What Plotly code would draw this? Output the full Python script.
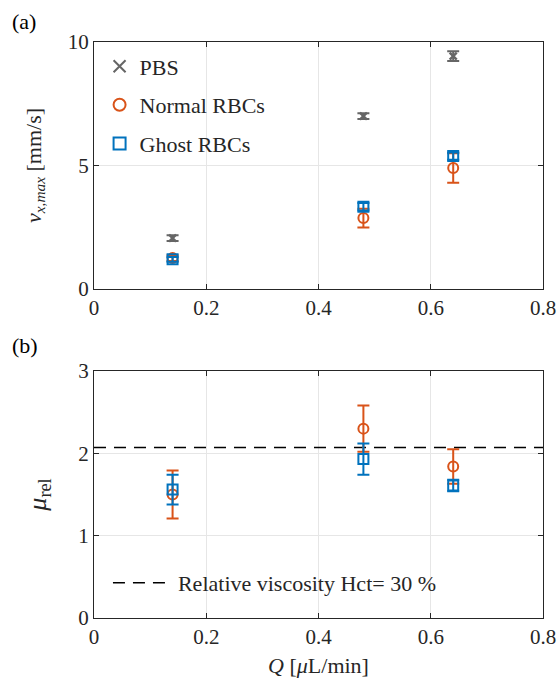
import plotly.graph_objects as go

# ---- data ----
Q = [0.14, 0.48, 0.64]

v_pbs = [2.06, 7.0, 9.43]
v_pbs_err = [0.12, 0.12, 0.2]
v_normal = [1.25, 2.87, 4.9]
v_normal_err = [0.12, 0.38, 0.6]
v_ghost = [1.2, 3.33, 5.38]
v_ghost_err = [0.1, 0.15, 0.15]

mu_normal = [1.5, 2.3, 1.84]
mu_normal_err = [0.29, 0.28, 0.21]
mu_ghost = [1.56, 1.93, 1.61]
mu_ghost_err = [0.18, 0.19, 0.07]

mu_hct30 = 2.07

x_ticks = [0, 0.2, 0.4, 0.6, 0.8]
x_ticklabels = ["0", "0.2", "0.4", "0.6", "0.8"]
ya_ticks = [0, 5, 10]
yb_ticks = [0, 1, 2, 3]

GRAY = "#666666"
ORANGE = "#D95319"
BLUE = "#0072BD"
FONT = "Liberation Serif, serif"

fig = go.Figure()

def eb(err, color):
    return dict(type="data", array=err, visible=True, color=color, thickness=2, width=6)

fig.add_trace(go.Scatter(x=Q, y=v_pbs, mode="markers", name="PBS", legendgroup="g1",
                         marker=dict(symbol="x-thin-open", size=7, color=GRAY, line=dict(color=GRAY, width=2.5)),
                         error_y=eb(v_pbs_err, GRAY), xaxis="x", yaxis="y", legend="legend"))
fig.add_trace(go.Scatter(x=Q, y=v_normal, mode="markers", name="Normal RBCs", legendgroup="g2",
                         marker=dict(symbol="circle-open", size=10, color=ORANGE, line=dict(color=ORANGE, width=2)),
                         error_y=eb(v_normal_err, ORANGE), xaxis="x", yaxis="y", legend="legend"))
fig.add_trace(go.Scatter(x=Q, y=v_ghost, mode="markers", name="Ghost RBCs", legendgroup="g3",
                         marker=dict(symbol="square-open", size=10, color=BLUE, line=dict(color=BLUE, width=2)),
                         error_y=eb(v_ghost_err, BLUE), xaxis="x", yaxis="y", legend="legend"))

fig.add_trace(go.Scatter(x=[0, 0.8], y=[mu_hct30, mu_hct30], mode="lines",
                         name="Relative viscosity Hct= 30 %",
                         line=dict(color="black", width=1.5, dash="12px,8px"),
                         xaxis="x2", yaxis="y2", legend="legend2"))
fig.add_trace(go.Scatter(x=Q, y=mu_normal, mode="markers", name="Normal RBCs", showlegend=False,
                         marker=dict(symbol="circle-open", size=10, color=ORANGE, line=dict(color=ORANGE, width=2)),
                         error_y=eb(mu_normal_err, ORANGE), xaxis="x2", yaxis="y2"))
fig.add_trace(go.Scatter(x=Q, y=mu_ghost, mode="markers", name="Ghost RBCs", showlegend=False,
                         marker=dict(symbol="square-open", size=10, color=BLUE, line=dict(color=BLUE, width=2)),
                         error_y=eb(mu_ghost_err, BLUE), xaxis="x2", yaxis="y2"))

W, H = 558, 683
xdom = [94 / W, 543 / W]
ydom_a = [1 - 289 / H, 1 - 42 / H]
ydom_b = [1 - 618 / H, 1 - 371 / H]

axcommon = dict(showline=True, linecolor="#262626", linewidth=1, mirror="allticks",
                ticks="inside", ticklen=5, tickcolor="#262626", automargin=False,
                showgrid=True, gridcolor="#e6e6e6", gridwidth=1, zeroline=False,
                tickfont=dict(family=FONT, size=21, color="#262626"))

fig.update_layout(
    width=W, height=H, margin=dict(l=0, r=0, t=0, b=0, autoexpand=False),
    paper_bgcolor="white", plot_bgcolor="white",
    font=dict(family=FONT, size=21, color="#262626"),
    xaxis=dict(domain=xdom, range=[0, 0.8], tickvals=x_ticks, ticktext=x_ticklabels,
               anchor="y", **axcommon),
    yaxis=dict(domain=ydom_a, range=[0, 10], tickvals=ya_ticks, anchor="x",
               title=dict(text="<i>v</i><sub><i>x,max</i></sub> [mm/s]", standoff=20,
                          font=dict(family=FONT, size=22)), **axcommon),
    xaxis2=dict(domain=xdom, range=[0, 0.8], tickvals=x_ticks, ticktext=x_ticklabels,
                anchor="y2",
                title=dict(text="<i>Q</i> [<i>μ</i>L/min]", standoff=9, font=dict(family=FONT, size=22)),
                **axcommon),
    yaxis2=dict(domain=ydom_b, range=[0, 3], tickvals=yb_ticks, anchor="x2",
                title=dict(text="<i>μ</i><sub>rel</sub>", standoff=24, font=dict(family=FONT, size=26)),
                **axcommon),
    legend=dict(x=xdom[0] + 0.01, y=ydom_a[1] - 0.005, xanchor="left", yanchor="top",
                bgcolor="rgba(0,0,0,0)", borderwidth=0, font=dict(family=FONT, size=22),
                tracegroupgap=7, itemsizing="constant"),
    legend2=dict(x=xdom[0] + 0.025, y=1 - 583 / H, xanchor="left", yanchor="middle",
                 bgcolor="rgba(0,0,0,0)", borderwidth=0, font=dict(family=FONT, size=22),
                 itemwidth=60),
    showlegend=True,
    annotations=[
        dict(text="(a)", x=10 / W, y=1 - 22 / H, xref="paper", yref="paper", showarrow=False,
             xanchor="left", yanchor="middle", font=dict(family=FONT, size=22, color="black")),
        dict(text="(b)", x=10 / W, y=1 - 345 / H, xref="paper", yref="paper", showarrow=False,
             xanchor="left", yanchor="middle", font=dict(family=FONT, size=22, color="black")),
    ],
)

fig.write_html("out.html", config={"displayModeBar": False},
               post_script="document.body.style.margin='0';document.body.style.overflow='hidden';")
